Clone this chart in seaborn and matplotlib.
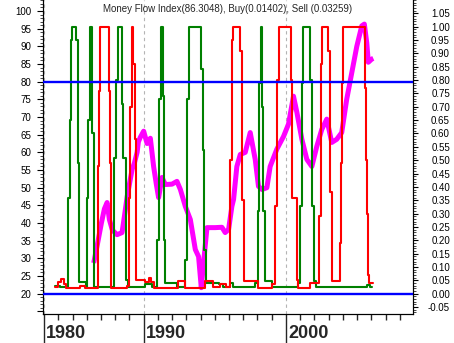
import matplotlib
matplotlib.use("Agg")
import matplotlib.pyplot as plt
import matplotlib.transforms as mtransforms
from matplotlib.ticker import FixedLocator, MultipleLocator, FuncFormatter, NullFormatter
import pandas as pd
import seaborn as sns

# ---------------- data ----------------
title_text = "Money Flow Index(86.3048), Buy(0.01402), Sell (0.03259)"

mfi_years = [1986.49, 1986.75, 1987.03, 1987.24, 1987.43, 1987.59, 1987.80, 1988.13, 1988.48,
             1988.65, 1988.84, 1989.19, 1989.35, 1989.54, 1989.63, 1989.77, 1990.00, 1990.24,
             1990.47, 1990.70, 1990.89, 1991.05, 1991.29, 1991.52, 1991.99, 1992.34, 1992.58,
             1992.93, 1993.28, 1993.63, 1993.86, 1994.05, 1994.21, 1994.45, 1995.03, 1995.50,
             1995.73, 1995.97, 1996.20, 1996.32, 1996.55, 1996.79, 1997.14, 1997.49, 1997.84,
             1998.07, 1998.31, 1998.66, 1998.89, 1999.36, 1999.83, 2000.18, 2000.53, 2000.77,
             2001.12, 2001.47, 2001.82, 2002.17, 2002.52, 2002.87, 2003.22, 2003.57, 2003.92,
             2004.27, 2004.63, 2004.98, 2005.33, 2005.51, 2005.68, 2005.79, 2006.03, 2006.14]
mfi_values = [28.7, 34, 40, 44, 45.8, 41, 38, 36.7, 37.3,
              42, 47.5, 55.2, 57, 60, 63, 64.3, 66, 62.5,
              64, 56, 51, 47.2, 52.9, 50.9, 51, 51.8, 49.5,
              44.7, 41, 32.5, 30.5, 21.7, 28.8, 38.7, 38.7, 38.8,
              37.3, 38.2, 44.7, 46.7, 56, 59.4, 60, 65.6, 58,
              50.4, 49.5, 50, 56, 60.9, 64.5, 68, 75.9, 71.3,
              63.7, 58, 56, 61.7, 66.5, 69.4, 62.8, 63.7, 65.6,
              75, 82.6, 90, 95.8, 96.3, 91, 85.5, 86.4, 86.6]

buy_years = [1983.80, 1984.15, 1984.67, 1984.81, 1984.91, 1984.98, 1985.26, 1985.37, 1985.49,
             1985.98, 1986.03, 1986.12, 1986.21, 1986.28, 1986.33, 1986.38, 1986.49, 1986.54,
             1987.94, 1988.08, 1988.18, 1988.48, 1988.58, 1988.75, 1988.93, 1990.12, 1990.59,
             1990.96, 1991.05, 1991.19, 1991.33, 1991.45, 1991.52, 1992.34, 1992.93, 1993.05,
             1993.16, 1994.03, 1994.14, 1994.26, 1994.38, 1995.26, 1995.59, 1996.08, 1996.30,
             1997.84, 1998.07, 1998.14, 1998.24, 1998.31, 1998.42, 1998.54, 1999.01, 2000.88,
             2001.00, 2001.12, 2001.23, 2001.70, 2001.82, 2001.98, 2002.12, 2005.68, 2005.91,
             2006.03]
buy_values = [0.030, 0.025, 0.36, 0.65, 0.95, 1.0, 0.95, 0.49, 0.045,
              0.025, 0.36, 0.65, 1.0, 0.66, 1.0, 0.60, 0.35, 0.025,
              0.51, 0.80, 1.0, 0.71, 0.51, 0.05, 0.025, 0.035, 0.026,
              0.20, 0.73, 1.0, 0.74, 0.20, 0.04, 0.026, 0.127, 0.73,
              1.0, 0.84, 0.54, 0.165, 0.04, 0.035, 0.026, 0.04, 0.026,
              0.04, 0.31, 0.79, 1.0, 0.70, 0.31, 0.046, 0.026, 0.04,
              0.33, 0.79, 1.0, 0.80, 0.33, 0.046, 0.026, 0.034, 0.026,
              0.026]

sell_years = [1983.80, 1983.98, 1984.20, 1984.37, 1984.51, 1985.56, 1985.91, 1986.77, 1986.87,
              1986.96, 1987.54, 1987.66, 1987.73, 1988.84, 1988.95, 1989.07, 1989.16, 1989.28,
              1989.37, 1989.49, 1990.12, 1990.35, 1990.54, 1990.70, 1992.44, 1992.93, 1994.33,
              1994.89, 1995.38, 1995.80, 1996.08, 1996.20, 1996.27, 1996.79, 1996.93, 1997.02,
              1998.05, 1999.01, 1999.24, 1999.36, 1999.52, 2000.34, 2000.46, 2000.77, 2000.88,
              2001.70, 2002.35, 2002.45, 2002.52, 2002.98, 2003.10, 2003.22, 2003.26, 2003.80,
              2003.87, 2003.92, 2003.99, 2005.56, 2005.64, 2005.72, 2005.79, 2005.86, 2006.10]
sell_values = [0.025, 0.045, 0.055, 0.035, 0.021, 0.03, 0.021, 0.48, 0.76,
               1.0, 0.76, 0.49, 0.021, 0.03, 0.36, 0.70, 1.0, 0.86,
               0.58, 0.05, 0.045, 0.06, 0.045, 0.021, 0.047, 0.021, 0.046,
               0.026, 0.035, 0.026, 0.50, 0.95, 1.0, 0.91, 0.35, 0.046,
               0.021, 0.035, 0.33, 0.80, 1.0, 0.80, 0.36, 0.05, 0.021,
               0.04, 0.29, 0.86, 1.0, 0.91, 0.38, 0.08, 0.046, 0.19,
               0.49, 0.79, 1.0, 0.77, 0.50, 0.30, 0.07, 0.04, 0.04]

mfi_levels = [80, 20]
left_ticks = list(range(15, 101, 5))
right_ticks = [round(-0.05 + 0.05 * i, 2) for i in range(23)]
year_ticks = list(range(1983, 2009))
decade_ticks = [1983, 1990, 2000]
decade_labels = ["1980", "1990", "2000"]

# ---------------- figure ----------------
sns.set_style("white")
plt.rcParams["font.family"] = ["Liberation Sans", "DejaVu Sans"]
plt.rcParams["axes.unicode_minus"] = False

W, H = 454, 343
fig = plt.figure(figsize=(W / 100, H / 100), dpi=100)
ax = fig.add_axes([42.5 / W, 1 - 314.3 / H, (413 - 42.5) / W, 314.3 / H])
ax2 = ax.twinx()

mfi_df = pd.DataFrame({"year": mfi_years, "mfi": mfi_values})
buy_df = pd.DataFrame({"year": buy_years, "buy": buy_values})
sell_df = pd.DataFrame({"year": sell_years, "sell": sell_values})

for d in decade_ticks:
    ax.axvline(d, color="#b4b4b4", lw=0.8, ls=(0, (3, 3)), zorder=0)

sns.lineplot(data=mfi_df, x="year", y="mfi", ax=ax, color="#ff00ff", lw=3.6,
             estimator=None, sort=False, solid_capstyle="butt")
sns.lineplot(data=buy_df, x="year", y="buy", ax=ax2, color="#008000", lw=1.5,
             drawstyle="steps-post", estimator=None, sort=False)
sns.lineplot(data=sell_df, x="year", y="sell", ax=ax2, color="#ff0000", lw=1.5,
             drawstyle="steps-post", estimator=None, sort=False)

trans = mtransforms.blended_transform_factory(ax2.transAxes, ax.transData)
for lvl in mfi_levels:
    ax2.plot([0, 1], [lvl, lvl], transform=trans, color="#0000ff", lw=1.7, zorder=5)

ax.set_xlim(1982.89, 2008.93)
ax.set_ylim(14.17, 103.12)
ax2.set_ylim(-0.0772, 1.1)

ax.set_xlabel("")
ax.set_ylabel("")
ax2.set_xlabel("")
ax2.set_ylabel("")

# left axis
ax.yaxis.set_major_locator(FixedLocator(left_ticks))
ax.yaxis.set_major_formatter(FuncFormatter(lambda v, p: "" if v < 20 else f"{v:.0f}"))
ax.yaxis.set_minor_locator(MultipleLocator(1))
ax.tick_params(axis="y", which="major", left=True, direction="out", length=4.3, width=0.8,
               pad=3.6, labelsize=7, colors="black")
ax.tick_params(axis="y", which="minor", left=True, direction="out", length=2.2, width=0.6)

# right axis
ax2.yaxis.set_major_locator(FixedLocator(right_ticks))
ax2.yaxis.set_major_formatter(FuncFormatter(lambda v, p: f"{v:.2f}"))
ax2.yaxis.set_minor_locator(MultipleLocator(0.01))
ax2.tick_params(axis="y", which="major", right=True, direction="out", length=3.6, width=0.8,
                pad=23, labelsize=7, colors="black")
ax2.tick_params(axis="y", which="minor", right=True, direction="out", length=1.8, width=0.6)

# x axis
ax.xaxis.set_major_locator(FixedLocator(decade_ticks))
ax.xaxis.set_major_formatter(NullFormatter())
ax.xaxis.set_minor_locator(FixedLocator(year_ticks))
ax.tick_params(axis="x", which="major", bottom=True, direction="out", length=21, width=1.0)
ax.tick_params(axis="x", which="minor", bottom=True, direction="out", length=4.3, width=1.0)

for d, lab in zip(decade_ticks, decade_labels):
    ax.annotate(lab, xy=(d, 0), xycoords=("data", "axes fraction"), xytext=(1.4, -13.8),
                textcoords="offset points", ha="left", va="center", fontsize=13,
                fontweight="bold", annotation_clip=False)

for a in (ax, ax2):
    for side, sp in a.spines.items():
        sp.set_color("black")
        sp.set_linewidth(0.8)
    a.spines["top"].set_visible(False)

ax2.text(0.5, 1 - 8.7 / 314.3, title_text, transform=ax.transAxes, ha="center", va="center",
         fontsize=7)

fig.canvas.draw()
for t in ax2.yaxis.get_major_ticks():
    t.label2.set_horizontalalignment("right")

fig.savefig("out.png", dpi=100, facecolor="white")
